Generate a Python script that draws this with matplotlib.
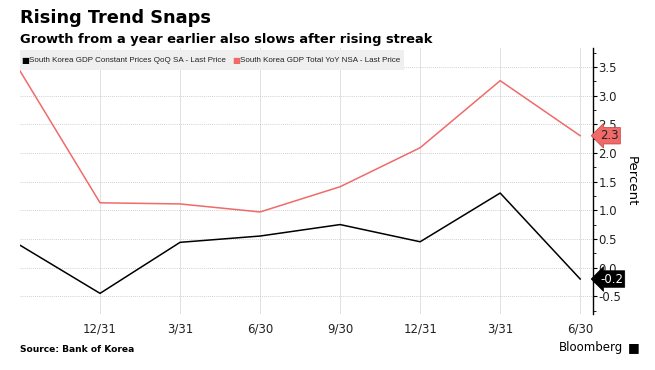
import matplotlib
matplotlib.use("Agg")
import matplotlib.pyplot as plt
from matplotlib.ticker import MultipleLocator

# Data
tick_labels = ["12/31", "3/31", "6/30", "9/30", "12/31", "3/31", "6/30"]
qoq = [0.39, -0.45, 0.44, 0.55, 0.75, 0.45, 1.30, -0.2]
yoy = [3.43, 1.13, 1.11, 0.97, 1.41, 2.09, 3.26, 2.3]
qoq_name = "South Korea GDP Constant Prices QoQ SA - Last Price"
yoy_name = "South Korea GDP Total YoY NSA - Last Price"

W, H = 655, 370
red = "#f06a6a"
fig = plt.figure(figsize=(W/100, H/100), dpi=100)
ax = fig.add_axes([20/W, 1-314/H, (593-20)/W, (314-48)/H])

x = list(range(len(qoq)))
ax.plot(x, yoy, color=red, lw=1.1, zorder=3)
ax.plot(x, qoq, color="black", lw=1.1, zorder=3)

ax.set_xlim(0, 7.16)
ax.set_ylim(-0.81, 3.83)
ax.set_xticks(range(1, 8))
ax.set_xticklabels(tick_labels, fontsize=8.5, color="#222222")
ax.tick_params(axis="x", length=0, pad=6)

ax.yaxis.tick_right()
ax.yaxis.set_label_position("right")
yt = [-0.5, 0, 0.5, 1.0, 1.5, 2.0, 2.5, 3.0, 3.5]
ax.set_yticks(yt)
ax.set_yticklabels([f"{v:.1f}" for v in yt], fontsize=8.5, color="#222222")
ax.yaxis.set_minor_locator(MultipleLocator(0.25))
ax.tick_params(axis="y", which="major", length=3, width=0.8, direction="out", pad=1)
ax.tick_params(axis="y", which="minor", length=2, width=0.6, direction="out")
ax.set_ylabel("Percent", rotation=270, labelpad=12, fontsize=9.5)

for s in ["top", "left", "bottom"]:
    ax.spines[s].set_visible(False)
ax.spines["right"].set_linewidth(1.0)

ax.yaxis.grid(True, which="major", color="#c0c0c0", linestyle=(0, (1, 1.5)), lw=0.6)
ax.xaxis.grid(True, which="major", color="#e2e2e2", linestyle="-", lw=0.7)
ax.set_axisbelow(True)

def fx(px):
    return px / W

def fy(py):
    return 1 - py / H

# Legend
ly = fy(60)
fs = 5.8
leg_font = "Liberation Sans"
renderer = fig.canvas.get_renderer()
fig.text(fx(21), ly, "\u25A0", fontsize=6, color="black", va="center", ha="left", zorder=5)
t1 = fig.text(fx(29), ly, qoq_name, fontsize=fs, family=leg_font, va="center", ha="left",
              color="#222222", zorder=5)
end1 = t1.get_window_extent(renderer).x1
fig.text(fx(end1 + 6), ly, "\u25A0", fontsize=6, color=red, va="center", ha="left", zorder=5)
t2 = fig.text(fx(end1 + 14), ly, yoy_name, fontsize=fs, family=leg_font, va="center", ha="left",
              color="#222222", zorder=5)
end2 = t2.get_window_extent(renderer).x1
fig.patches.append(plt.Rectangle((fx(20), fy(70)), (end2 + 4 - 20)/W, 20/H, transform=fig.transFigure,
                                 facecolor="#efefef", edgecolor="none", zorder=4))

# Last value tags
for val, fc, tc, ec in [(yoy[-1], red, "#222222", "#c04040"), (qoq[-1], "black", "white", "black")]:
    ax.annotate(f"{val:.1f}", xy=(1.0, val), xycoords=("axes fraction", "data"),
                xytext=(5, 0), textcoords="offset points", fontsize=8.5, color=tc,
                va="center", ha="left", zorder=6, annotation_clip=False,
                bbox=dict(boxstyle="larrow,pad=0.15", fc=fc, ec=ec, lw=0.5))

fig.text(fx(20), fy(18), "Rising Trend Snaps", fontsize=12.8, fontweight="bold", va="center")
fig.text(fx(20), fy(39), "Growth from a year earlier also slows after rising streak",
         fontsize=9.35, fontweight="bold", va="center")
fig.text(fx(20), fy(349), "Source: Bank of Korea", fontsize=6.6, fontweight="bold", va="center")
fig.text(fx(623), fy(348), "Bloomberg", fontsize=8.5, va="center", ha="right")
fig.text(fx(628), fy(348), "\u25A0", fontsize=9, va="center", ha="left")

fig.savefig("out.png", dpi=100)
